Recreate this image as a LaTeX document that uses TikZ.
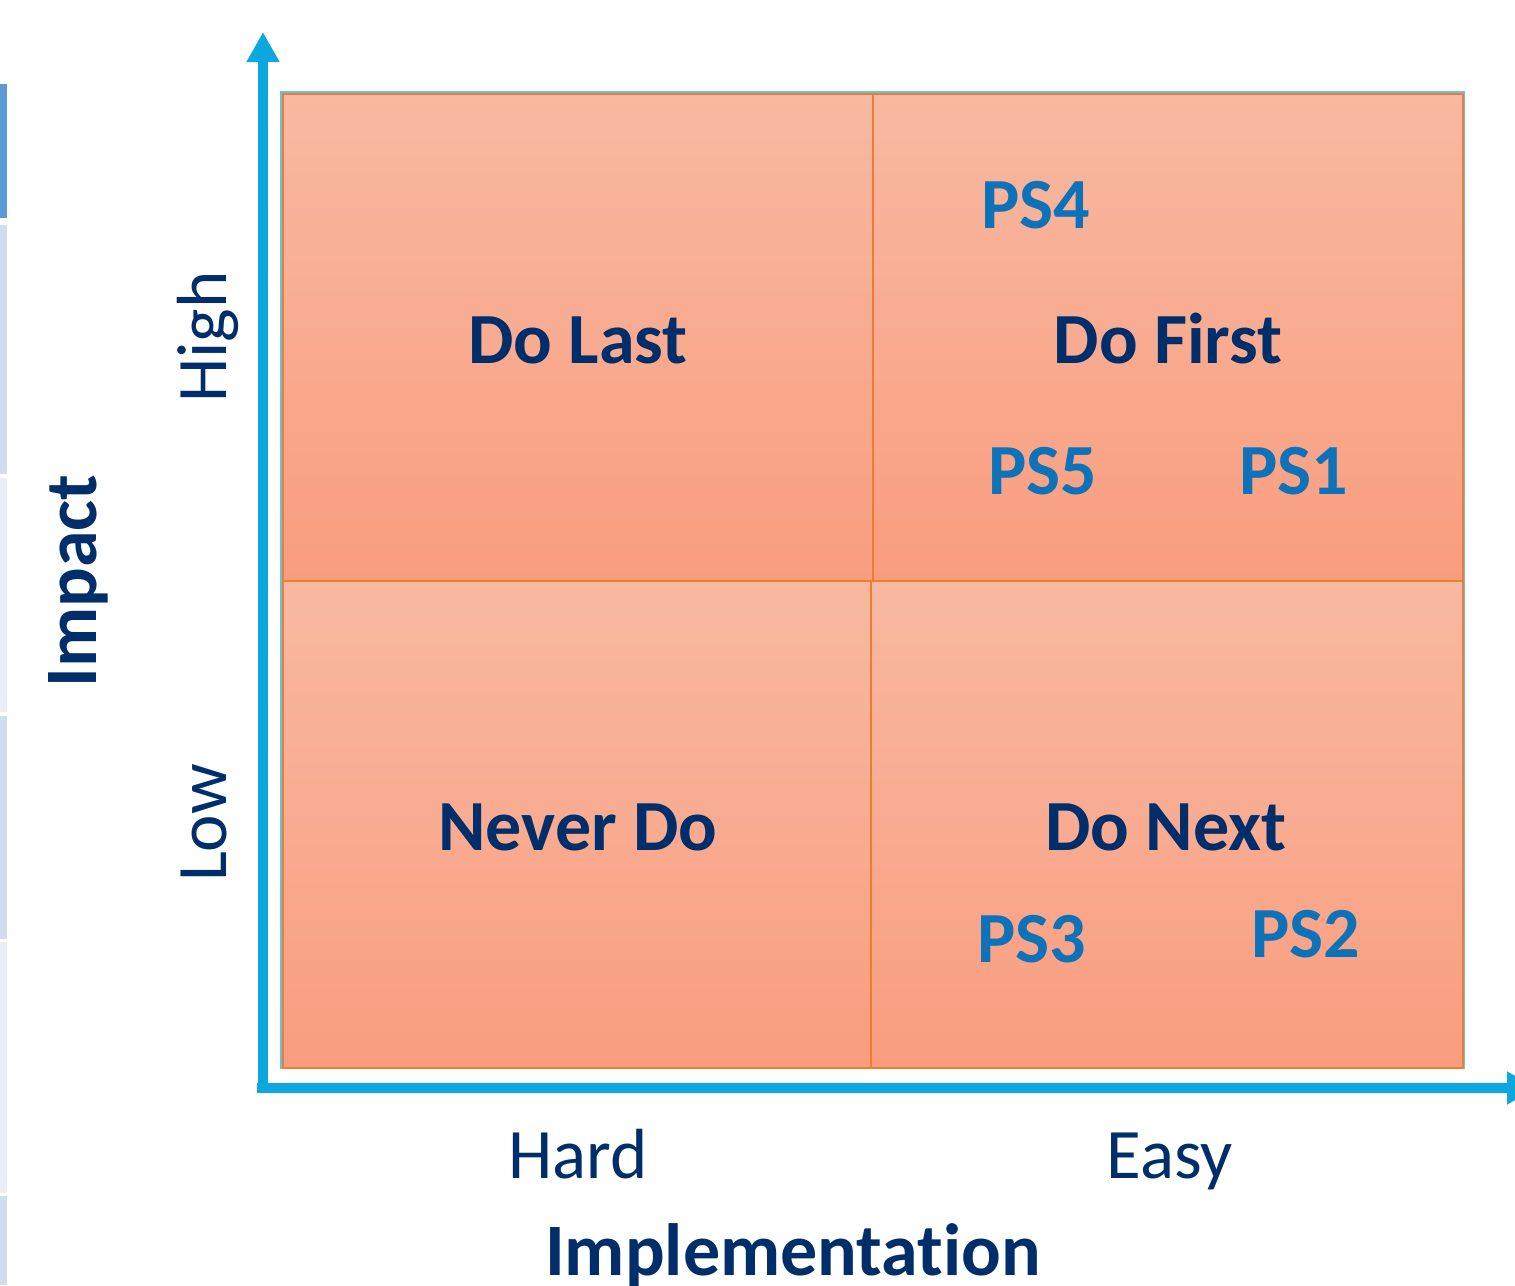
\documentclass[tikz,border=0pt]{standalone}
\usepackage{fontspec}
\setmainfont[Ligatures=NoCommon]{Carlito}
\usetikzlibrary{arrows.meta}
\definecolor{navy}{RGB}{0,46,106}
\definecolor{psblue}{RGB}{14,114,185}
\definecolor{axisblue}{RGB}{13,167,224}
\definecolor{cellline}{RGB}{237,125,49}
\definecolor{outline}{RGB}{95,195,235}
\definecolor{ctop}{RGB}{248,185,161}
\definecolor{cbot}{RGB}{249,157,127}
\definecolor{stripA}{RGB}{91,155,213}
\definecolor{stripB}{RGB}{208,220,239}
\definecolor{stripC}{RGB}{233,238,248}
\tikzset{
  cell/.style={draw=cellline, line width=1.5pt, top color=ctop, bottom color=cbot, inner sep=0pt},
  quad/.style={font=\fontsize{72}{80}\selectfont\bfseries, text=navy, anchor=base, inner sep=0pt},
  ps/.style={font=\fontsize{72}{80}\selectfont\bfseries, text=psblue, anchor=base, inner sep=0pt},
  lvl/.style={font=\fontsize{71}{80}\selectfont, text=navy, anchor=base, inner sep=0pt},
  axtitle/.style={font=\fontsize{74}{80}\selectfont\bfseries, text=navy, anchor=base, inner sep=0pt},
  axis/.style={draw=axisblue, line width=10pt, -{Triangle[length=30pt,width=31pt]}}
}
\begin{document}
\begin{tikzpicture}[x=1pt,y=-1pt]
\useasboundingbox (0,0) rectangle (1515,1285);
% left strip
\fill[stripA] (0,84) rectangle (7,218);
\fill[stripB] (0,225) rectangle (7,474);
\fill[stripC] (0,478) rectangle (7,712);
\fill[stripB] (0,716) rectangle (7,939);
\fill[stripC] (0,942) rectangle (7,1193);
\fill[stripB] (0,1196) rectangle (7,1285);
% outer outline
\draw[outline, line width=2pt] (281,92) rectangle (1464,1068);
% cells
\node[cell, minimum width=590pt, minimum height=487pt, anchor=north west] (TL) at (282,93) {};
\node[cell, minimum width=590pt, minimum height=487pt, anchor=north west] (TR) at (872,93) {};
\node[cell, minimum width=588pt, minimum height=487pt, anchor=north west] (BL) at (282,580) {};
\node[cell, minimum width=592pt, minimum height=487pt, anchor=north west] (BR) at (870,580) {};
% axes
\coordinate (origin) at (257,1088);
\coordinate (ybot) at (263,1093);
\coordinate (ytop) at (263,32);
\coordinate (xend) at (1537,1088);
\draw[axis] (ybot) -- (ytop);
\draw[axis] (origin) -- (xend);
% quadrant labels
\node[quad] (dolast) at (578,363) {Do Last};
\node[quad] (dofirst) at (1168,363) {Do First};
\node[quad] (neverdo) at (578,850) {Never Do};
\node[quad] (donext) at (1166,850) {Do Next};
% items
\node[ps] (ps4) at (1036,228) {PS4};
\node[ps] (ps5) at (1043,494) {PS5};
\node[ps] (ps1) at (1294,494) {PS1};
\node[ps] (ps3) at (1032,962) {PS3};
\node[ps] (ps2) at (1306,957) {PS2};
% axis levels
\node[lvl, rotate=90] (high) at (226,337) {High};
\node[lvl, rotate=90] (low) at (226,823) {Low};
\node[lvl] (hard) at (578,1178) {Hard};
\node[lvl] (easy) at (1170,1178) {Easy};
% axis titles
\node[axtitle, rotate=90] (impact) at (96,581) {Impact};
\node[axtitle] (impl) at (793,1275) {Implementation};
\end{tikzpicture}
\end{document}
